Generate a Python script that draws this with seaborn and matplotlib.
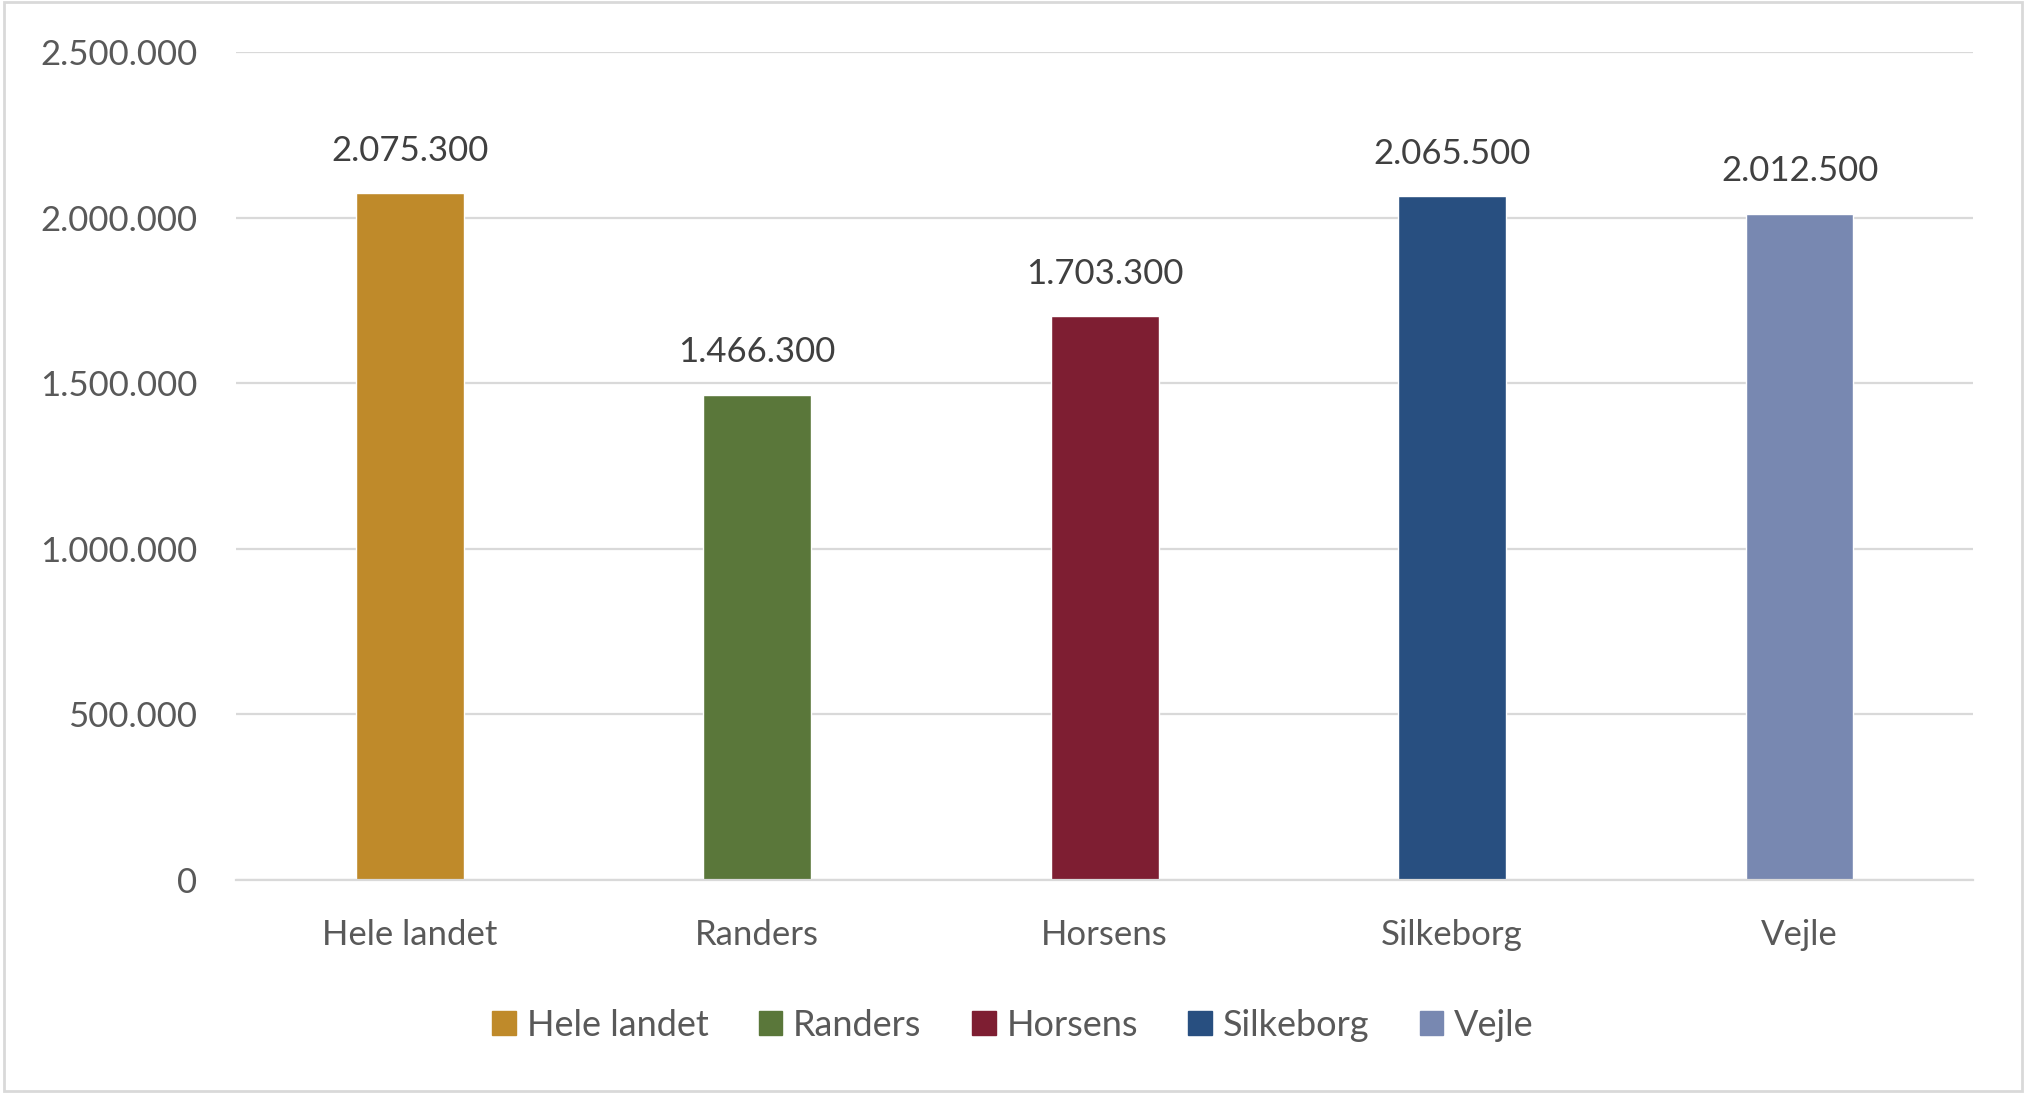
import matplotlib.pyplot as plt
import seaborn as sns
import pandas as pd
from matplotlib.patches import Rectangle
from matplotlib.ticker import FuncFormatter

# --------------------------------
# Data
# --------------------------------
regions = ["Hele landet", "Randers", "Horsens", "Silkeborg", "Vejle"]
values = [2075300, 1466300, 1703300, 2065500, 2012500]
colors = ["#BF8A2A", "#5A773A", "#7E1E32", "#284F80", "#7888B1"]
y_ticks = [0, 500000, 1000000, 1500000, 2000000, 2500000]

df = pd.DataFrame({"Region": regions, "Value": values})


def dk_fmt(v, pos=None):
    return f"{int(round(v)):,}".replace(",", ".")


sns.set_style("white")
plt.rcParams["font.family"] = ["Lato", "DejaVu Sans"]
text_color = "#595959"

fig = plt.figure(figsize=(20.26, 10.93), dpi=100)
ax = fig.add_axes([0.1165, 0.195, 0.8575, 0.757])

sns.barplot(data=df, x="Region", y="Value", hue="Region",
            palette=colors, width=0.31, ax=ax, legend=True,
            saturation=1)

ax.set_ylim(0, 2500000)
ax.set_yticks(y_ticks)
ax.yaxis.set_major_formatter(FuncFormatter(dk_fmt))
ax.set_xlim(-0.5, len(regions) - 0.5)
ax.grid(axis="y", color="#D9D9D9", linewidth=1.6)
ax.set_axisbelow(True)
for s in ["top", "right", "left"]:
    ax.spines[s].set_visible(False)
ax.spines["bottom"].set_color("#D9D9D9")
ax.spines["bottom"].set_linewidth(1.6)
ax.set_xlabel("")
ax.set_ylabel("")
ax.tick_params(axis="both", length=0, labelsize=25, labelcolor=text_color)
ax.tick_params(axis="y", pad=28)
ax.tick_params(axis="x", pad=28)

for c in ax.containers:
    ax.bar_label(c, labels=[dk_fmt(v) for v in c.datavalues],
                 padding=19, fontsize=25, color="#404040")

ax.legend_.remove()
handles = [Rectangle((0, 0), 1, 1, color=c) for c in colors]
fig.legend(handles, regions, loc="center", bbox_to_anchor=(0.5, 0.062),
           ncol=5, frameon=False, fontsize=26, labelcolor=text_color,
           handlelength=0.65, handleheight=0.65, handletextpad=0.3,
           columnspacing=1.4)

fig.patches.append(Rectangle((0.002, 0.002), 0.996, 0.996,
                             transform=fig.transFigure, fill=False,
                             edgecolor="#D9D9D9", linewidth=2))

fig.savefig("out.png", dpi=100)
